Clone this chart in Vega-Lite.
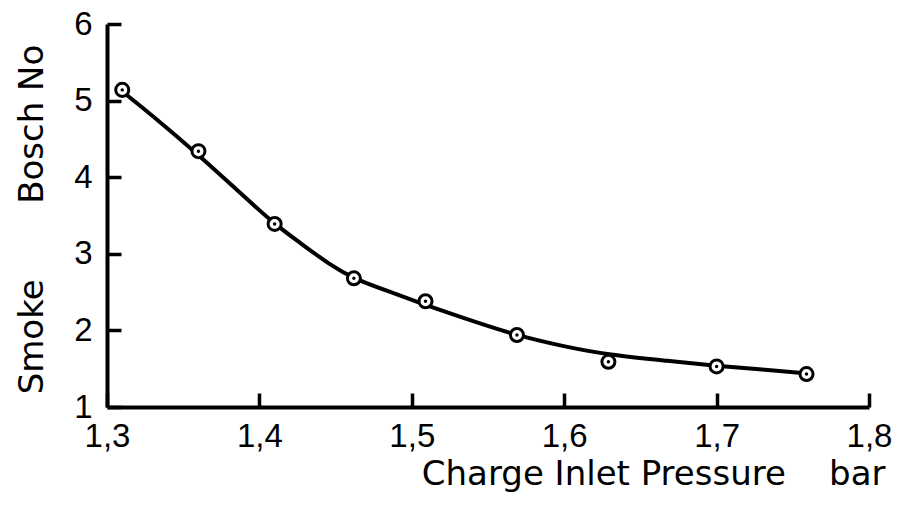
{
  "$schema": "https://vega.github.io/schema/vega-lite/v6.json",
  "width": 762,
  "height": 383,
  "autosize": {"type": "none"},
  "padding": {"left": 107, "top": 24, "right": 30, "bottom": 99},
  "background": "white",
  "config": {
    "view": {"stroke": null},
    "axis": {
      "grid": false,
      "domainColor": "black",
      "domainWidth": 4,
      "tickColor": "black",
      "tickWidth": 3.5,
      "tickSize": -14,
      "labelFlush": false,
      "labelFont": "Liberation Sans",
      "labelFontSize": 33,
      "labelColor": "black",
      "titleFont": "DejaVu Sans",
      "titleFontWeight": "normal",
      "titleFontSize": 34,
      "titleColor": "black"
    }
  },
  "datasets": {
    "curve": [
      {"p": 1.31, "s": 5.12},
      {"p": 1.335, "s": 4.72},
      {"p": 1.36, "s": 4.29},
      {"p": 1.385, "s": 3.84},
      {"p": 1.409, "s": 3.40},
      {"p": 1.427, "s": 3.14},
      {"p": 1.446, "s": 2.86},
      {"p": 1.462, "s": 2.67},
      {"p": 1.492, "s": 2.46},
      {"p": 1.509, "s": 2.33},
      {"p": 1.532, "s": 2.175},
      {"p": 1.569, "s": 1.93},
      {"p": 1.60, "s": 1.79},
      {"p": 1.629, "s": 1.68},
      {"p": 1.669, "s": 1.60},
      {"p": 1.70, "s": 1.535},
      {"p": 1.73, "s": 1.49},
      {"p": 1.759, "s": 1.44}
    ],
    "points": [
      {"p": 1.31, "s": 5.14},
      {"p": 1.36, "s": 4.34},
      {"p": 1.41, "s": 3.39},
      {"p": 1.462, "s": 2.68},
      {"p": 1.509, "s": 2.38},
      {"p": 1.569, "s": 1.94},
      {"p": 1.629, "s": 1.59},
      {"p": 1.7, "s": 1.53},
      {"p": 1.759, "s": 1.43}
    ]
  },
  "layer": [
    {
      "data": {"name": "curve"},
      "mark": {"type": "line", "color": "black", "strokeWidth": 4, "interpolate": "basis"},
      "encoding": {
        "x": {
          "field": "p", "type": "quantitative",
          "scale": {"domain": [1.3, 1.8], "nice": false, "zero": false},
          "axis": {
            "values": [1.3, 1.4, 1.5, 1.6, 1.7, 1.8],
            "labelExpr": "replace(format(datum.value, '.1f'), '.', ',')",
            "labelPadding": 27,
            "labelBaseline": "top",
            "title": "Charge Inlet Pressure\u00a0\u00a0\u00a0\u00a0bar",
            "titleX": 778,
            "titleY": 77,
            "titleAlign": "right",
            "titleBaseline": "alphabetic"
          }
        },
        "y": {
          "field": "s", "type": "quantitative",
          "scale": {"domain": [1, 6], "nice": false, "zero": false},
          "axis": {
            "values": [1, 2, 3, 4, 5, 6],
            "format": "d",
            "labelPadding": 29,
            "title": "Smoke\u00a0\u00a0\u00a0\u00a0\u00a0\u00a0\u00a0Bosch No",
            "titleX": -65,
            "titleY": 195,
            "titleAlign": "center",
            "titleBaseline": "alphabetic",
            "titleAngle": -90
          }
        }
      }
    },
    {
      "data": {"name": "points"},
      "mark": {"type": "point", "shape": "circle", "filled": true, "fill": "white", "stroke": "black", "strokeWidth": 3, "size": 170, "opacity": 1},
      "encoding": {
        "x": {"field": "p", "type": "quantitative"},
        "y": {"field": "s", "type": "quantitative"}
      }
    },
    {
      "data": {"name": "points"},
      "mark": {"type": "point", "shape": "circle", "filled": true, "color": "black", "size": 12, "opacity": 1},
      "encoding": {
        "x": {"field": "p", "type": "quantitative"},
        "y": {"field": "s", "type": "quantitative"}
      }
    }
  ]
}
